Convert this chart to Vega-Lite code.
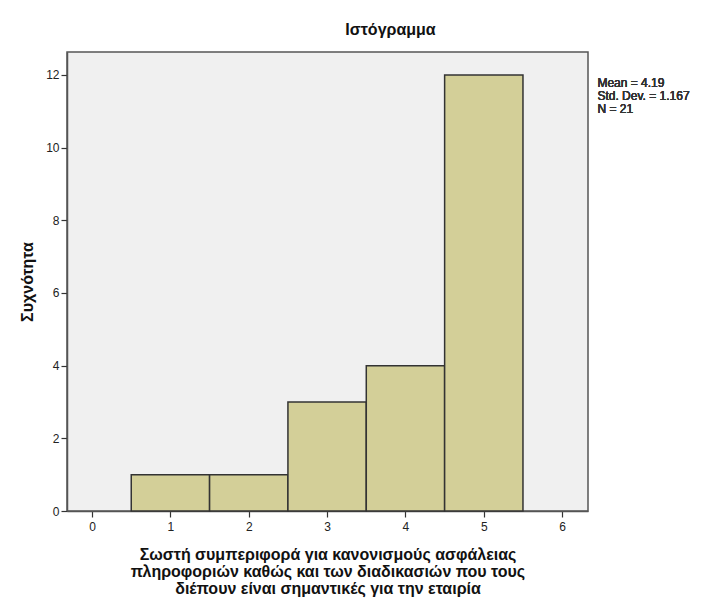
{
  "$schema": "https://vega.github.io/schema/vega-lite/v6.json",
  "width": 521,
  "height": 459,
  "autosize": {"type": "none"},
  "padding": {"left": 67, "top": 52, "right": 117, "bottom": 93},
  "background": "white",
  "config": {
    "font": "Liberation Sans",
    "view": {"fill": "#f0f0f0", "stroke": "#555555", "strokeWidth": 1.5}
  },
  "title": {
    "text": "Ιστόγραμμα",
    "anchor": "middle",
    "dx": 63,
    "fontSize": 16,
    "fontWeight": "bold",
    "color": "#111111",
    "offset": 14,
    "font": "Liberation Sans"
  },
  "data": {
    "values": [
      {"bin_start": 0.5, "bin_end": 1.5, "count": 1},
      {"bin_start": 1.5, "bin_end": 2.5, "count": 1},
      {"bin_start": 2.5, "bin_end": 3.5, "count": 3},
      {"bin_start": 3.5, "bin_end": 4.5, "count": 4},
      {"bin_start": 4.5, "bin_end": 5.5, "count": 12}
    ]
  },
  "layer": [
    {
      "mark": {"type": "bar", "orient": "vertical", "fill": "#d3cf98", "stroke": "#333333", "strokeWidth": 1.5},
      "encoding": {
        "x": {
          "field": "bin_start",
          "type": "quantitative",
          "scale": {"domain": [-0.32, 6.33], "nice": false, "zero": false, "padding": 0},
          "axis": {
            "values": [0, 1, 2, 3, 4, 5, 6],
            "format": "d",
            "grid": false,
            "domain": true,
            "domainColor": "#555555",
            "domainWidth": 1.5,
            "ticks": true,
            "tickSize": 6,
            "tickColor": "#333333",
            "tickWidth": 1.2,
            "labelFontSize": 12,
            "labelColor": "#222222",
            "labelPadding": 4,
            "title": ["Σωστή συμπεριφορά για κανονισμούς ασφάλειας", "πληροφοριών καθώς και των διαδικασιών που τους", "διέπουν είναι σημαντικές για την εταιρία"],
            "titleFontSize": 16,
            "titleFontWeight": "bold",
            "titleColor": "#111111",
            "titlePadding": 14,
            "titleLineHeight": 17
          }
        },
        "x2": {"field": "bin_end"},
        "y": {
          "field": "count",
          "type": "quantitative",
          "scale": {"domain": [0, 12.63], "nice": false, "padding": 0},
          "axis": {
            "values": [0, 2, 4, 6, 8, 10, 12],
            "grid": false,
            "domain": true,
            "domainColor": "#555555",
            "domainWidth": 1.5,
            "tickSize": 6,
            "tickColor": "#333333",
            "tickWidth": 1.2,
            "labelFontSize": 12,
            "labelColor": "#222222",
            "labelPadding": 2,
            "title": "Συχνότητα",
            "titleFontSize": 16,
            "titleFontWeight": "bold",
            "titleColor": "#111111",
            "titlePadding": 10
          }
        },
        "y2": {"datum": 0}
      }
    },
    {
      "mark": {
        "type": "text",
        "align": "left",
        "baseline": "top",
        "font": "Liberation Sans",
        "fontSize": 12,
        "fontWeight": 400,
        "lineHeight": 13,
        "color": "#333333",
        "clip": false,
        "text": ["Mean = 4.19", "Std. Dev. = 1.167", "N = 21"]
      },
      "encoding": {
        "x": {"datum": 6.45, "type": "quantitative"},
        "y": {"datum": 11.92, "type": "quantitative"}
      }
    }
  ]
}
